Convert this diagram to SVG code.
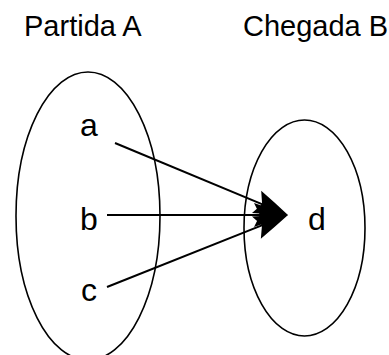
<svg xmlns="http://www.w3.org/2000/svg" width="389" height="355" viewBox="0 0 389 355">
<style>
.set{fill:none;stroke:#000;stroke-width:1.6}
.title{font-family:"Liberation Sans",Arial,sans-serif;font-size:29px;fill:#000}
.lbl{font-family:"Liberation Sans",Arial,sans-serif;font-size:32px;fill:#000;text-anchor:middle}
.edge{fill:none;stroke:#000;stroke-width:2}
</style>
<defs>
<marker id="arr" markerUnits="userSpaceOnUse" viewBox="-24 -14 37 28" markerWidth="37" markerHeight="28" refX="0" refY="0" orient="auto" overflow="visible">
<path d="M12,0 Q-4,-6 -22,-12 L-16,0 L-22,12 Q-4,6 12,0 Z" fill="#000"/>
</marker>
</defs>
<rect width="389" height="355" fill="#fff"/>
<g id="titleA"><text class="title" x="24" y="36">Partida A</text></g>
<g id="titleB"><text class="title" x="243" y="36">Chegada B</text></g>
<g id="setA"><ellipse class="set" cx="88" cy="216" rx="72" ry="144"/></g>
<g id="setB"><ellipse class="set" cx="304.5" cy="228" rx="60.5" ry="108"/></g>
<g id="node-a"><text class="lbl" x="89" y="136">a</text></g>
<g id="node-b"><text class="lbl" x="89" y="230">b</text></g>
<g id="node-c"><text class="lbl" x="89" y="301">c</text></g>
<g id="node-d"><text class="lbl" x="317" y="230">d</text></g>
<g id="connectors">
<line class="edge" x1="115" y1="143" x2="276.9" y2="210.4" marker-end="url(#arr)"/>
<line class="edge" x1="107" y1="215" x2="276" y2="215" marker-end="url(#arr)"/>
<line class="edge" x1="107" y1="287" x2="276.85" y2="219.44" marker-end="url(#arr)"/>
</g>
</svg>
